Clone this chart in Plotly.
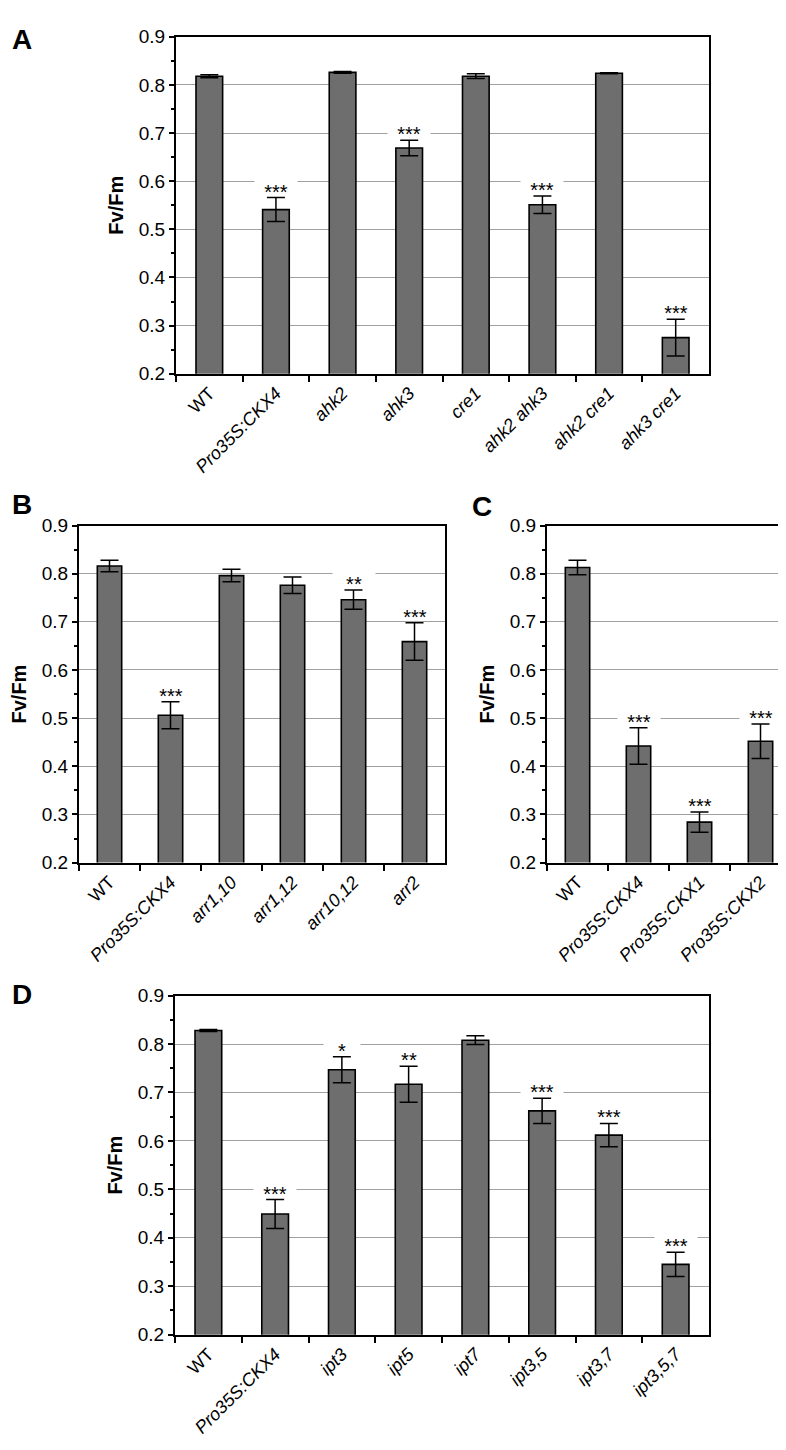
import plotly.graph_objects as go

# ---- data ----
a_cats = ["WT", "Pro35S:CKX4", "ahk2", "ahk3", "cre1", "ahk2 ahk3", "ahk2 cre1", "ahk3 cre1"]
a_vals = [0.818, 0.541, 0.826, 0.669, 0.818, 0.551, 0.824, 0.275]
a_err = [0.003, 0.025, 0.002, 0.016, 0.005, 0.018, 0.001, 0.038]
a_sig = ["", "***", "", "***", "", "***", "", "***"]

b_cats = ["WT", "Pro35S:CKX4", "arr1,10", "arr1,12", "arr10,12", "arr2"]
b_vals = [0.816, 0.506, 0.796, 0.776, 0.746, 0.659]
b_err = [0.012, 0.028, 0.013, 0.017, 0.020, 0.039]
b_sig = ["", "***", "", "", "**", "***"]

c_cats = ["WT", "Pro35S:CKX4", "Pro35S:CKX1", "Pro35S:CKX2"]
c_vals = [0.813, 0.442, 0.284, 0.452]
c_err = [0.015, 0.038, 0.021, 0.036]
c_sig = ["", "***", "***", "***"]

d_cats = ["WT", "Pro35S:CKX4", "ipt3", "ipt5", "ipt7", "ipt3,5", "ipt3,7", "ipt3,5,7"]
d_vals = [0.828, 0.449, 0.747, 0.717, 0.808, 0.662, 0.612, 0.345]
d_err = [0.002, 0.030, 0.027, 0.037, 0.009, 0.026, 0.024, 0.025]
d_sig = ["", "***", "*", "**", "", "***", "***", "***"]

y_ticks = [0.2, 0.3, 0.4, 0.5, 0.6, 0.7, 0.8, 0.9]
y_title = "Fv/Fm"

# ---- layout helpers ----
W, H = 786, 1450
FONT = "Liberation Sans, Arial, sans-serif"


def dx(px):
    return px / W


def dy(py):
    return 1 - py / H


panels = [
    ("A", a_cats, a_vals, a_err, a_sig, (168, 701, 19, 361), (2, 4)),
    ("B", b_cats, b_vals, b_err, b_sig, (71, 437, 515, 857), (2, 476)),
    ("C", c_cats, c_vals, c_err, c_sig, (539, 783, 515, 857), (462, 478)),
    ("D", d_cats, d_vals, d_err, d_sig, (167, 701, 992, 1336), (2, 973)),
]

fig = go.Figure()
annotations = []
layout_axes = {}

for i, (letter, cats, vals, err, sig, box, lpos) in enumerate(panels):
    n = i + 1
    xa = "x" if n == 1 else f"x{n}"
    ya = "y" if n == 1 else f"y{n}"
    x0, x1, y0, y1 = box
    fig.add_trace(go.Bar(
        x=cats, y=vals,
        error_y=dict(type="data", array=err, color="black", thickness=1.5, width=9),
        marker=dict(color="#6e6e6e", line=dict(color="black", width=1.6)),
        xaxis=xa, yaxis=ya, showlegend=False,
    ))
    ticktext = [c if c == "WT" else f"<i>{c}</i>" for c in cats]
    layout_axes["xaxis" if n == 1 else f"xaxis{n}"] = dict(
        domain=[dx(x0), dx(x1)], anchor=ya, type="category",
        tickmode="array", tickvals=cats, ticktext=ticktext,
        tickangle=-45, tickson="boundaries", ticks="outside", ticklen=6,
        tickwidth=1.6, tickcolor="black",
        showline=True, mirror=True, linecolor="black", linewidth=2,
        showgrid=False, tickfont=dict(family=FONT, size=18, color="black"),
    )
    layout_axes["yaxis" if n == 1 else f"yaxis{n}"] = dict(
        domain=[dy(y1), dy(y0)], anchor=xa, range=[0.2, 0.9],
        tickmode="array", tickvals=y_ticks, tickformat=".1f",
        ticks="outside", ticklen=5, tickwidth=1.6, tickcolor="black",
        minor=dict(ticks="outside", ticklen=3, tickwidth=1.5, tickcolor="black",
                   dtick=0.05, showgrid=False),
        showgrid=True, gridcolor="#a0a0a0", gridwidth=1.3, zeroline=False,
        showline=True, mirror=True, linecolor="black", linewidth=2,
        tickfont=dict(family=FONT, size=19, color="black"),
        title=dict(text=f"<b>{y_title}</b>", standoff=10,
                   font=dict(family=FONT, size=20, color="black")),
    )
    for c, v, e, s in zip(cats, vals, err, sig):
        if s:
            annotations.append(dict(
                x=c, y=v + e, xref=xa, yref=ya, text=s, showarrow=False,
                yanchor="bottom", xanchor="center", bgcolor="white",
                width=34 if len(s) == 1 else 40, height=12, valign="top",
                borderpad=1,
                font=dict(family=FONT, size=20, color="black"), yshift=3,
            ))
    annotations.append(dict(
        x=dx(lpos[0]), y=dy(lpos[1]), xref="paper", yref="paper",
        text=f"<b>{letter}</b>", showarrow=False, xanchor="left", yanchor="top",
        font=dict(family=FONT, size=28, color="black"),
    ))

fig.update_layout(
    width=W, height=H, margin=dict(l=0, r=0, t=0, b=0),
    paper_bgcolor="white", plot_bgcolor="white",
    bargap=0.6, annotations=annotations,
    font=dict(family=FONT, color="black"),
    **layout_axes,
)

fig.write_html("out.html")
